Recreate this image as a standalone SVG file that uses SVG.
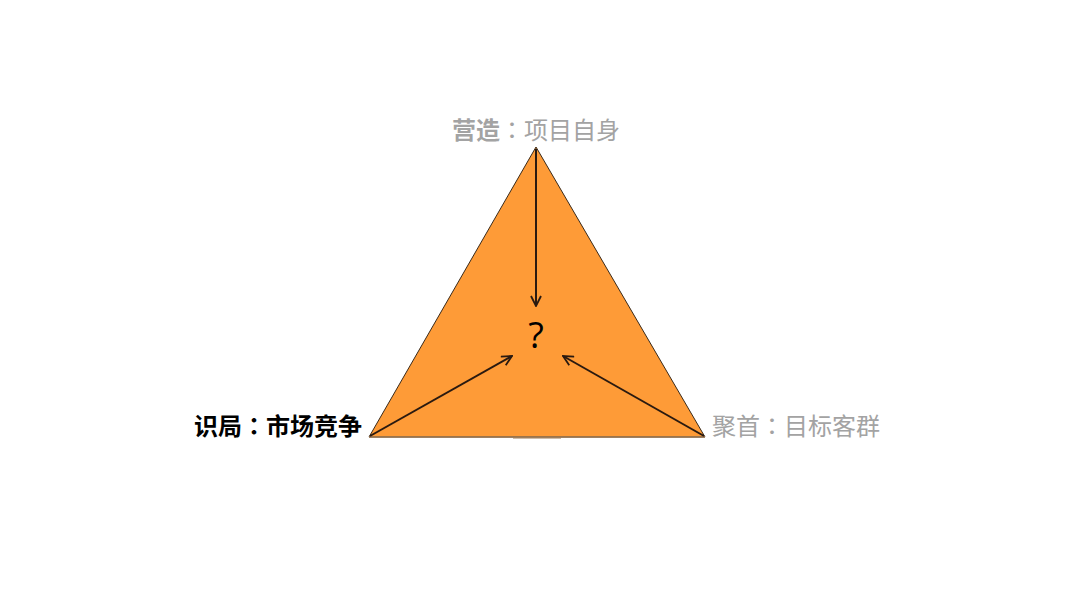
<svg xmlns="http://www.w3.org/2000/svg" width="1080" height="607" viewBox="0 0 1080 607">
<style>
.lbl{font-family:"Noto Sans CJK SC","Noto Sans",sans-serif;font-size:24px}
.col{font-family:"Noto Sans CJK JP","Noto Sans CJK TC",sans-serif}
.grey{fill:#a3a3a3}
.b{font-weight:bold}
.conn{stroke:#2a1a10;stroke-width:2;fill:none}
</style>
<defs>
<marker id="ah" viewBox="0 0 12 12" refX="11" refY="6" markerWidth="12" markerHeight="12" markerUnits="userSpaceOnUse" orient="auto">
<path d="M1,1 L11,6 L1,11" fill="none" stroke="#2a1a10" stroke-width="1.8"/>
</marker>
</defs>
<rect width="1080" height="607" fill="#ffffff"/>
<g id="triangle">
<polygon points="536,147 369,437 705,437" fill="#fe9b37" stroke="#3a2a1a" stroke-width="1"/>
<line x1="369" y1="437" x2="705" y2="437" stroke="#9e7a55" stroke-width="1.5"/>
<line x1="513" y1="438" x2="561" y2="438" stroke="#9e7a55" stroke-width="1"/>
</g>
<g id="center">
<text x="536" y="348" text-anchor="middle" font-family="'Open Sans','Noto Sans',sans-serif" font-size="36" fill="#000">?</text>
</g>
<g id="connectors">
<line class="conn" x1="536" y1="149" x2="536" y2="306" marker-end="url(#ah)"/>
<line class="conn" x1="370" y1="436" x2="512" y2="356" marker-end="url(#ah)"/>
<line class="conn" x1="704" y1="436" x2="563" y2="356" marker-end="url(#ah)"/>
</g>
<g id="top-label">
<text class="lbl grey" x="536" y="139" text-anchor="middle"><tspan class="b">营造</tspan><tspan class="col">：</tspan>项目自身</text>
</g>
<g id="left-label">
<text class="lbl b" x="362" y="435" text-anchor="end" fill="#000">识局<tspan class="col">：</tspan>市场竞争</text>
</g>
<g id="right-label">
<text class="lbl grey" x="712" y="435">聚首<tspan class="col">：</tspan>目标客群</text>
</g>
</svg>
